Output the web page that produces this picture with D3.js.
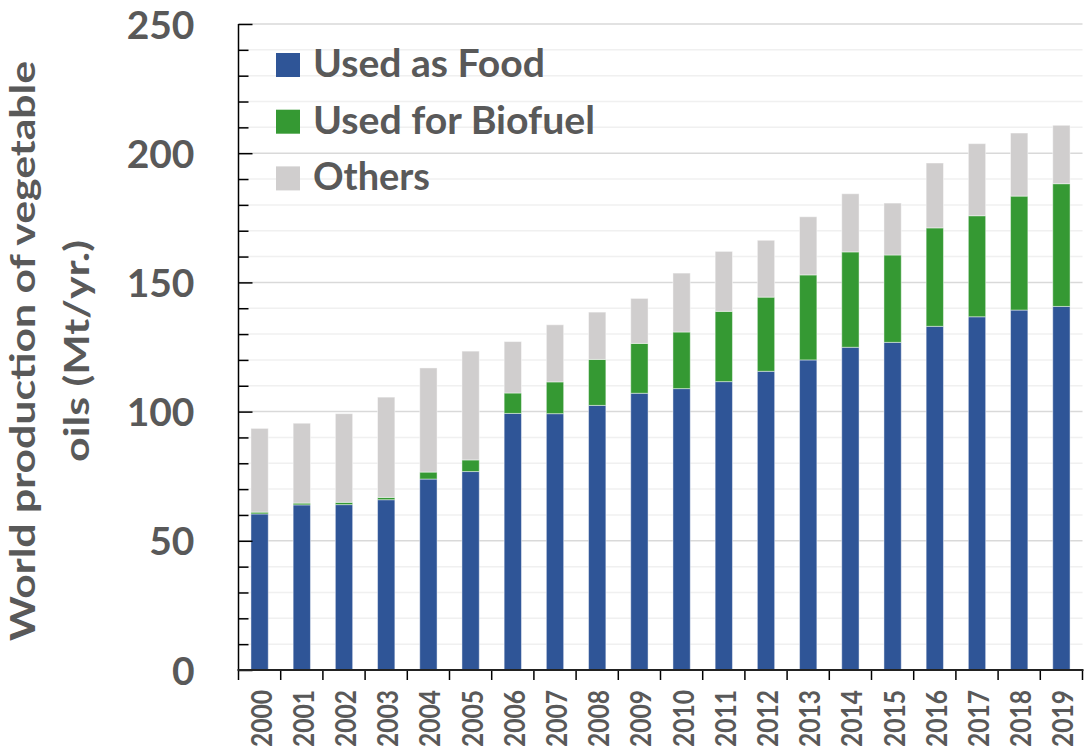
<!DOCTYPE html>
<html>
<head>
<meta charset="utf-8">
<script src="https://cdn.jsdelivr.net/npm/d3@7"></script>
<style>
  html, body { margin: 0; padding: 0; background: #fff; }
  svg { display: block; }
  text { font-family: Lato, "Open Sans", sans-serif; font-weight: 700; fill: #595959; }
</style>
</head>
<body>
<svg id="chart" width="1085" height="753"></svg>
<script>
const years = ["2000","2001","2002","2003","2004","2005","2006","2007","2008","2009",
               "2010","2011","2012","2013","2014","2015","2016","2017","2018","2019"];
const food    = [60.4, 63.9, 64.0, 65.9, 73.9, 76.8, 99.3, 99.2, 102.4, 107.1,
                 108.9, 111.6, 115.6, 120.0, 124.9, 126.8, 133.0, 136.7, 139.3, 140.7];
const biofuel = [0.7, 0.7, 0.9, 0.9, 2.7, 4.5, 7.9, 12.3, 17.8, 19.3,
                 21.9, 27.2, 28.7, 32.9, 36.9, 33.8, 38.1, 39.1, 44.1, 47.5];
const others  = [32.4, 30.9, 34.3, 38.8, 40.3, 42.1, 19.9, 22.1, 18.3, 17.4,
                 22.8, 23.2, 22.0, 22.5, 22.5, 20.1, 25.1, 27.9, 24.4, 22.6];
const seriesNames = ["Used as Food", "Used for Biofuel", "Others"];
const seriesColors = ["#2F5597", "#359933", "#D0CECE"];
const yTicks = [0, 50, 100, 150, 200, 250];
const titleLines = ["World production of vegetable", "oils (Mt/yr.)"];

const svg = d3.select("#chart");
const pLeft = 238.5, pRight = 1082.5, pTop = 24, pBottom = 670;

const xCat = d3.scaleBand().domain(years).range([pLeft, pRight]).padding(0);
const xBar = d3.scaleBand().domain(years).range([pLeft, pRight]).paddingInner(0.59).paddingOuter(0.295);
const y = d3.scaleLinear().domain([0, 250]).range([pBottom, pTop]);

// gridlines
const grid = svg.append("g");
grid.selectAll("line").data(d3.range(10, 251, 10)).join("line")
  .attr("x1", pLeft).attr("x2", pRight)
  .attr("y1", d => y(d)).attr("y2", d => y(d))
  .attr("stroke", d => d % 50 === 0 ? "#d9d9d9" : "#f0f0f0")
  .attr("stroke-width", 1.5);

// stacked data
const table = years.map((yr, i) => ({year: yr, food: food[i], biofuel: biofuel[i], others: others[i]}));
const stack = d3.stack().keys(["food", "biofuel", "others"])(table);

svg.append("g").selectAll("g").data(stack).join("g")
  .attr("fill", (d, i) => seriesColors[i])
  .selectAll("rect").data(d => d).join("rect")
  .attr("x", d => xBar(d.data.year))
  .attr("width", xBar.bandwidth())
  .attr("y", d => y(d[1]))
  .attr("height", d => y(d[0]) - y(d[1]))
  .attr("stroke", "#ffffff").attr("stroke-opacity", 0.45).attr("stroke-width", 1);

// y axis: minor/major inner ticks
const yMinor = svg.append("g").attr("transform", `translate(${pLeft},0)`)
  .call(d3.axisRight(y).tickValues(d3.range(0, 251, 10).filter(v => v % 50 !== 0)).tickSize(10).tickFormat(""));
yMinor.select(".domain").remove();
const yMajor = svg.append("g").attr("transform", `translate(${pLeft},0)`)
  .call(d3.axisRight(y).tickValues(yTicks).tickSize(14).tickFormat(""));
yMajor.select(".domain").remove();
svg.selectAll(".tick line").attr("stroke", "#000").attr("stroke-width", 1.5);

svg.append("line").attr("x1", pLeft).attr("x2", pLeft).attr("y1", pTop).attr("y2", pBottom)
  .attr("stroke", "#000").attr("stroke-width", 1.5);

// y labels
const yLab = svg.append("g").attr("transform", `translate(${pLeft},0)`)
  .call(d3.axisLeft(y).tickValues(yTicks).tickSize(0).tickPadding(44));
yLab.select(".domain").remove();
yLab.selectAll("text").attr("font-size", 39).attr("fill", "#595959")
  .attr("dy", "0.36em");
yLab.attr("font-family", null).attr("font-size", null);

// x axis
const bounds = years.map(d => xCat(d)).concat([pRight]);
svg.append("g").selectAll("line").data(bounds).join("line")
  .attr("x1", d => d).attr("x2", d => d).attr("y1", pBottom).attr("y2", pBottom + 10)
  .attr("stroke", "#000").attr("stroke-width", 1.5);
svg.append("line").attr("x1", pLeft - 1).attr("x2", pRight + 1).attr("y1", pBottom).attr("y2", pBottom)
  .attr("stroke", "#222").attr("stroke-width", 2);

svg.append("g").selectAll("text").data(years).join("text")
  .attr("transform", d => `translate(${xCat(d) + xCat.bandwidth() / 2},690) rotate(-90)`)
  .attr("y", 12)
  .attr("text-anchor", "end")
  .attr("font-size", 28)
  .attr("textLength", 57).attr("lengthAdjust", "spacingAndGlyphs")
  .text(d => d);

// y title
const title = svg.append("g").attr("transform", "translate(0,351) rotate(-90)");
title.selectAll("text").data(titleLines).join("text")
  .attr("x", 0)
  .attr("y", (d, i) => i === 0 ? 35 : 89)
  .attr("text-anchor", "middle")
  .attr("font-size", 35)
  .attr("textLength", (d, i) => i === 0 ? 580 : 222)
  .attr("lengthAdjust", "spacingAndGlyphs")
  .text(d => d);

// legend
const legendWidths = [232, 282, 117];
const lg = svg.append("g").selectAll("g").data(seriesNames).join("g")
  .attr("transform", (d, i) => `translate(276,${53 + i * 56.7})`);
lg.append("rect").attr("width", 24).attr("height", 24).attr("fill", (d, i) => seriesColors[i]);
lg.append("text").attr("x", 37).attr("y", 24)
  .attr("font-size", 39)
  .attr("textLength", (d, i) => legendWidths[i]).attr("lengthAdjust", "spacingAndGlyphs")
  .text(d => d);
</script>
</body>
</html>
